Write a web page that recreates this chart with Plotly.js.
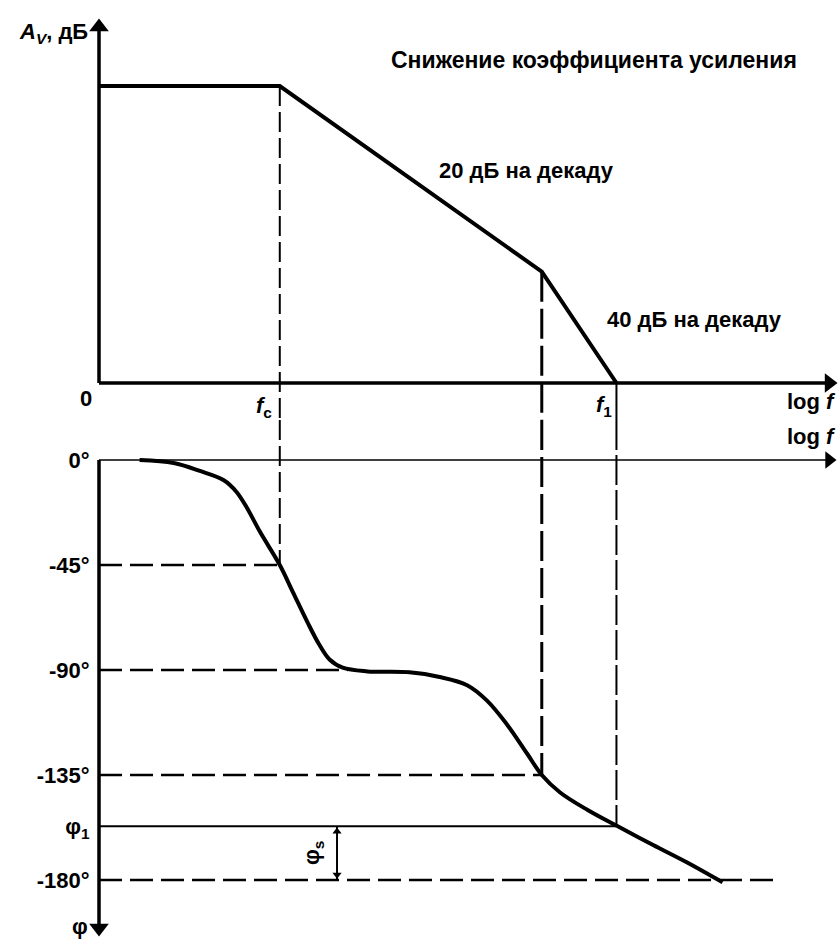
<!DOCTYPE html>
<html>
<head>
<meta charset="utf-8">
<script src="https://cdn.plot.ly/plotly-3.0.1.min.js"></script>
<style>html,body{margin:0;padding:0;background:#fff;}#chart{width:838px;height:941px;}</style>
</head>
<body>
<div id="chart"></div>
<script>
// ---- data (x in decades of log f, gain in dB, phase in degrees) ----
const gainX = [0, 1.38, 3.38, 3.95];
const gainDb = [64, 64, 24, 0];

const phaseX = [0.31, 0.57, 0.77, 0.95, 1.05, 1.13, 1.23, 1.38, 1.48, 1.59, 1.68, 1.76, 1.86, 2.05, 2.37, 2.60, 2.81, 2.96, 3.11, 3.27, 3.38, 3.52, 3.73, 3.96, 4.23, 4.49, 4.76];
const phaseDeg = [0, -1.3, -4.7, -8.6, -13.7, -20.6, -30.9, -45, -56.6, -69.4, -79, -85.5, -89, -90.6, -91, -93, -96.5, -103, -113, -126, -135, -142.5, -150, -157, -165, -172.5, -181];

const fc = 1.38, fBreak = 3.38, f1 = 3.95;
const phi1 = -157;
const phaseTickVals = [0, -45, -90, -135, phi1, -180];
const phaseTickText = ['0°', '-45°', '-90°', '-135°', 'φ<sub>1</sub>', '-180°'];
const xMax = 5.573;       // frequency axes end (arrowhead centre)
const gainAxisTop = 76.7; // gain axis end (arrowhead centre)
const phaseAxisBottom = -200.6;
const phase180End = 5.18;
const phase90End = 1.9;
const phiSx = 1.817;

// ---- ranges ----
const xRange = [-0.7557, 5.6412];
const gRange = [-7.97, 82.54];
const pRange = [-206.14, 17.14];

const FONT = 'Liberation Sans, Arial, sans-serif';
const black = '#000';

function seg(xs, ys, yax, width, dash) {
  return {x: xs, y: ys, xaxis: 'x', yaxis: yax, mode: 'lines', hoverinfo: 'skip', showlegend: false,
    line: {color: black, width: width, dash: dash || 'solid'}};
}
function head(x, y, yax, symbol, size) {
  return {x: [x], y: [y], xaxis: 'x', yaxis: yax, mode: 'markers', hoverinfo: 'skip', showlegend: false,
    cliponaxis: false,
    marker: {symbol: symbol, size: size, color: black, line: {width: 0}}};
}

const traces = [
  // guide lines
  seg([fc, fc], [gainDb[1], gRange[0]], 'y', 2, '20px,6px'),
  seg([fc, fc], [pRange[1], -45], 'y2', 2, '20px,6px'),
  seg([fBreak, fBreak], [gainDb[2], gRange[0]], 'y', 3, '30px,7px'),
  seg([fBreak, fBreak], [pRange[1], -135], 'y2', 3, '30px,7px'),
  seg([f1, f1], [0, gRange[0]], 'y', 2, 'solid'),
  seg([f1, f1], [pRange[1], phi1], 'y2', 2, '30px,5px'),
  seg([0, fc], [-45, -45], 'y2', 2.5, '23px,8px'),
  seg([0, phase90End], [-90, -90], 'y2', 2.5, '23px,8px'),
  seg([0, fBreak], [-135, -135], 'y2', 2.5, '23px,8px'),
  seg([0, phase180End], [-180, -180], 'y2', 2.5, '23px,8px'),
  seg([0, f1], [phi1, phi1], 'y2', 2, 'solid'),
  // axes
  seg([0, 0], [0, gainAxisTop], 'y', 3.5),
  seg([0, xMax], [0, 0], 'y', 3.5),
  seg([0, xMax], [0, 0], 'y2', 1.5),
  seg([0, 0], [0, phaseAxisBottom], 'y2', 3.5),
  head(0, gainAxisTop, 'y', 'triangle-up', 17),
  head(xMax, 0, 'y', 'triangle-right', 17),
  head(xMax, 0, 'y2', 'triangle-right', 15),
  head(0, phaseAxisBottom, 'y2', 'triangle-down', 17),
  // phase margin double arrow
  seg([phiSx, phiSx], [phi1, -180], 'y2', 2),
  head(phiSx, phi1 - 2.2, 'y2', 'triangle-up', 8),
  head(phiSx, -180 + 2.2, 'y2', 'triangle-down', 8),
  // gain asymptotes
  {x: gainX, y: gainDb, xaxis: 'x', yaxis: 'y', mode: 'lines', hoverinfo: 'skip', showlegend: false,
    line: {color: black, width: 4}},
  // phase curve
  {x: phaseX, y: phaseDeg, xaxis: 'x', yaxis: 'y2', mode: 'lines', hoverinfo: 'skip', showlegend: false,
    line: {color: black, width: 4, shape: 'spline', smoothing: 1}}
];

function label(text, x, y, yref, xanchor, size, extra) {
  return Object.assign({text: text, x: x, y: y, xref: 'x', yref: yref, showarrow: false,
    xanchor: xanchor || 'center', yanchor: 'middle',
    font: {family: FONT, size: size || 22, color: black, weight: 700}}, extra || {});
}

const annotations = [
  label('<i>A</i><sub><i>V</i></sub>, дБ', -0.069, 75.4, 'y', 'right'),
  label('Снижение коэффициента усиления', 2.214, 69.6, 'y', 'left', 23),
  label('20 дБ на декаду', 2.58, 45.9, 'y', 'left'),
  label('40 дБ на декаду', 3.863, 13.6, 'y', 'left'),
  label('0', -0.099, -3.4, 'y', 'center'),
  label('<i>f</i><sub>c</sub>', 1.26, -5.2, 'y', 'center'),
  label('<i>f</i><sub>1</sub>', 3.855, -5.0, 'y', 'center'),
  label('log <i>f</i>', 5.64, -3.9, 'y', 'right'),
  label('log <i>f</i>', 5.64, 9.86, 'y2', 'right'),
  label('φ', -0.145, -200.1, 'y2', 'center'),
  label('φ<sub>s</sub>', 1.634, -168.4, 'y2', 'center', 22, {textangle: -90})
];

const layout = {
  width: 838, height: 941,
  margin: {l: 0, r: 0, t: 0, b: 0},
  paper_bgcolor: '#fff', plot_bgcolor: '#fff',
  showlegend: false,
  font: {family: FONT, size: 22, color: black, weight: 700},
  xaxis: {range: xRange, visible: false, fixedrange: true},
  yaxis: {range: gRange, domain: [0.55367, 1], visible: false, fixedrange: true},
  yaxis2: {range: pRange, domain: [0, 0.55367], anchor: 'free', position: 99 / 838,
    showline: false, showgrid: false, zeroline: false,
    tickmode: 'array', tickvals: phaseTickVals, ticktext: phaseTickText,
    ticks: 'outside', ticklen: 5, tickcolor: 'rgba(0,0,0,0)',
    tickfont: {family: FONT, size: 22, color: black, weight: 700}, fixedrange: true},
  annotations: annotations
};

Plotly.newPlot('chart', traces, layout, {staticPlot: true, displayModeBar: false});
</script>
</body>
</html>
